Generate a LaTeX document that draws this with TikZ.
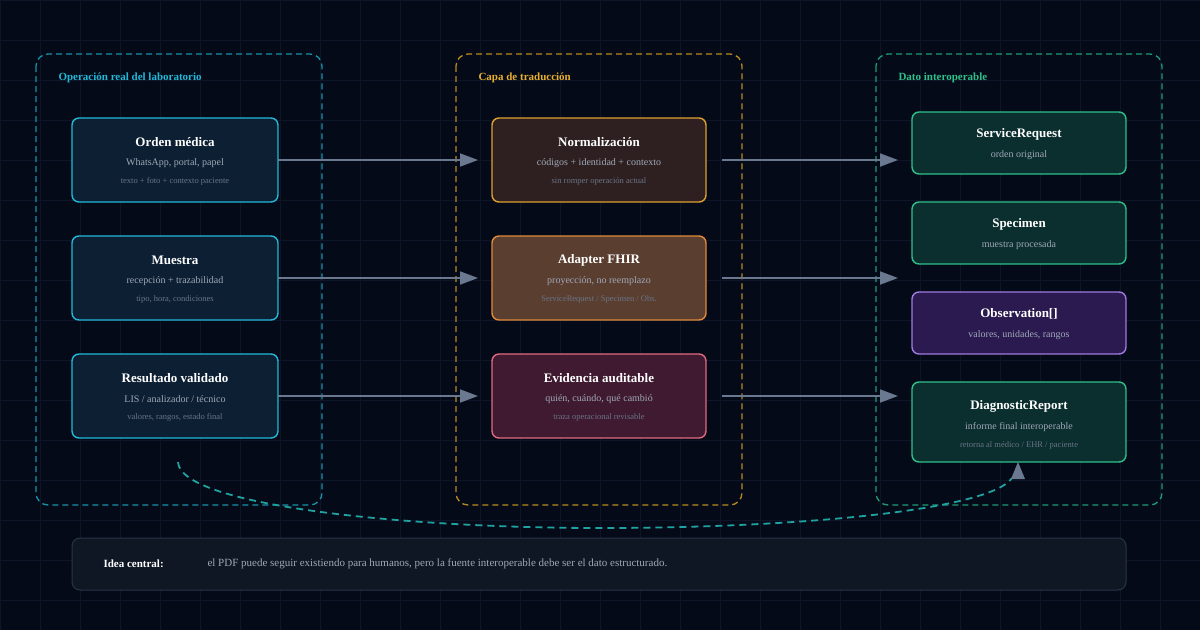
\documentclass[tikz,border=0pt]{standalone}
\usepackage{fontspec}
\setmainfont{Liberation Serif}
\usetikzlibrary{arrows.meta}
\definecolor{bg}{HTML}{050A18}
\definecolor{grid}{HTML}{0E1528}
\definecolor{cyanS}{HTML}{22B8D8}
\definecolor{cyanF}{HTML}{0C1F33}
\definecolor{cyanC}{HTML}{1A90A8}
\definecolor{goldC}{HTML}{B88A20}
\definecolor{goldT}{HTML}{E8B030}
\definecolor{greenC}{HTML}{1F9A78}
\definecolor{greenS}{HTML}{2FC08A}
\definecolor{greenF}{HTML}{0B2E2E}
\definecolor{normS}{HTML}{E0A030}
\definecolor{normF}{HTML}{2E2020}
\definecolor{adS}{HTML}{E08A3A}
\definecolor{adF}{HTML}{5A3E30}
\definecolor{evS}{HTML}{E06A80}
\definecolor{evF}{HTML}{3F1A30}
\definecolor{obS}{HTML}{A07AE0}
\definecolor{obF}{HTML}{2A1A50}
\definecolor{barF}{HTML}{0F1624}
\definecolor{barS}{HTML}{2A3448}
\definecolor{arr}{HTML}{6A7890}
\definecolor{subT}{HTML}{A0A8B8}
\definecolor{minT}{HTML}{6A7488}
\definecolor{curv}{HTML}{1FA3A0}
\begin{document}
\begin{tikzpicture}[x=1pt,y=-1pt,
 cont/.style={draw,dash pattern=on 6pt off 4pt,line width=1.3pt,rounded corners=12pt},
 box/.style={draw,line width=1.4pt,rounded corners=7pt},
 ttl/.style={text=white,font=\bfseries\fontsize{13}{15}\selectfont},
 sub/.style={text=subT,font=\fontsize{10}{12}\selectfont},
 mnr/.style={text=minT,font=\fontsize{8.5}{10}\selectfont},
 hdr/.style={font=\bfseries\fontsize{11}{13}\selectfont,anchor=west},
 ar/.style={draw=arr,line width=1.8pt,-{Triangle[length=18pt,width=13pt]}}]
\fill[bg] (0,0) rectangle (1200,630);
\useasboundingbox (0,0) rectangle (1200,630);
\foreach \i in {0,40,...,1200} \draw[grid,line width=0.5pt] (\i,0)--(\i,630);
\foreach \i in {0,40,...,630} \draw[grid,line width=0.5pt] (0,\i)--(1200,\i);
% containers
\draw[cont,draw=cyanC] (36,54) rectangle (322,505);
\draw[cont,draw=goldC] (456,54) rectangle (742,505);
\draw[cont,draw=greenC] (876,54) rectangle (1162,505);
\node[hdr,text=cyanS] (c1) at (55,78) {Operación real del laboratorio};
\node[hdr,text=goldT] (c2) at (475,78) {Capa de traducción};
\node[hdr,text=greenS] (c3) at (895,78) {Dato interoperable};
% left
\draw[box,draw=cyanS,fill=cyanF] (72,118) rectangle (278,202);
\node[ttl] at (175,142) {Orden médica};
\node[sub] at (175,163) {WhatsApp, portal, papel};
\node[mnr] at (175,181) {texto + foto + contexto paciente};
\coordinate (l1) at (278,160);
\draw[box,draw=cyanS,fill=cyanF] (72,236) rectangle (278,320);
\node[ttl] at (175,260) {Muestra};
\node[sub] at (175,281) {recepción + trazabilidad};
\node[mnr] at (175,299) {tipo, hora, condiciones};
\coordinate (l2) at (278,278);
\draw[box,draw=cyanS,fill=cyanF] (72,354) rectangle (278,438);
\node[ttl] at (175,378) {Resultado validado};
\node[sub] at (175,399) {LIS / analizador / técnico};
\node[mnr] at (175,417) {valores, rangos, estado final};
\coordinate (l3) at (278,396);
% middle
\draw[box,draw=normS,fill=normF] (492,118) rectangle (706,202);
\node[ttl] at (599,142) {Normalización};
\node[sub] at (599,163) {códigos + identidad + contexto};
\node[mnr] at (599,181) {sin romper operación actual};
\coordinate (m1i) at (478,160); \coordinate (m1o) at (722,160);
\draw[box,draw=adS,fill=adF] (492,236) rectangle (706,320);
\node[ttl] at (599,260) {Adapter FHIR};
\node[sub] at (599,281) {proyección, no reemplazo};
\node[mnr] at (599,299) {ServiceRequest / Specimen / Obs.};
\coordinate (m2i) at (478,278); \coordinate (m2o) at (722,278);
\draw[box,draw=evS,fill=evF] (492,354) rectangle (706,438);
\node[ttl] at (599,378) {Evidencia auditable};
\node[sub] at (599,399) {quién, cuándo, qué cambió};
\node[mnr] at (599,417) {traza operacional revisable};
\coordinate (m3i) at (478,396); \coordinate (m3o) at (722,396);
% right
\draw[box,draw=greenS,fill=greenF] (912,112) rectangle (1126,174);
\node[ttl] at (1019,134) {ServiceRequest};
\node[sub] at (1019,155) {orden original};
\coordinate (r1) at (898,160);
\draw[box,draw=greenS,fill=greenF] (912,202) rectangle (1126,264);
\node[ttl] at (1019,224) {Specimen};
\node[sub] at (1019,245) {muestra procesada};
\coordinate (r2) at (898,278);
\draw[box,draw=obS,fill=obF] (912,292) rectangle (1126,354);
\node[ttl] at (1019,314) {Observation[]};
\node[sub] at (1019,335) {valores, unidades, rangos};
\draw[box,draw=greenS,fill=greenF] (912,382) rectangle (1126,462);
\node[ttl] at (1019,406) {DiagnosticReport};
\node[sub] at (1019,427) {informe final interoperable};
\node[mnr] at (1019,445) {retorna al médico / EHR / paciente};
\coordinate (r3) at (898,396);
\coordinate (dr) at (1018,462);
\coordinate (cs) at (178,462);
% arrows
\draw[ar] (l1) -- (m1i);
\draw[ar] (l2) -- (m2i);
\draw[ar] (l3) -- (m3i);
\draw[ar] (m1o) -- (r1);
\draw[ar] (m2o) -- (r2);
\draw[ar] (m3o) -- (r3);
% feedback curve
\draw[curv,line width=1.8pt,dash pattern=on 7pt off 5pt] (cs) .. controls (180,505) and (400,528) .. (600,528) .. controls (800,528) and (990,510) .. (1012,478);
\fill[arr] (1018,462) -- (1025,479) -- (1011,479) -- cycle;
% bottom bar
\draw[draw=barS,fill=barF,line width=1pt,rounded corners=8pt] (72,538) rectangle (1126,590);
\node[anchor=west,text=white,font=\bfseries\fontsize{11}{13}\selectfont] (ic) at (100,564) {Idea central:};
\node[anchor=west,text=subT,font=\fontsize{11}{13}\selectfont] (it) at (204,564) {el PDF puede seguir existiendo para humanos, pero la fuente interoperable debe ser el dato estructurado.};
\end{tikzpicture}
\end{document}
